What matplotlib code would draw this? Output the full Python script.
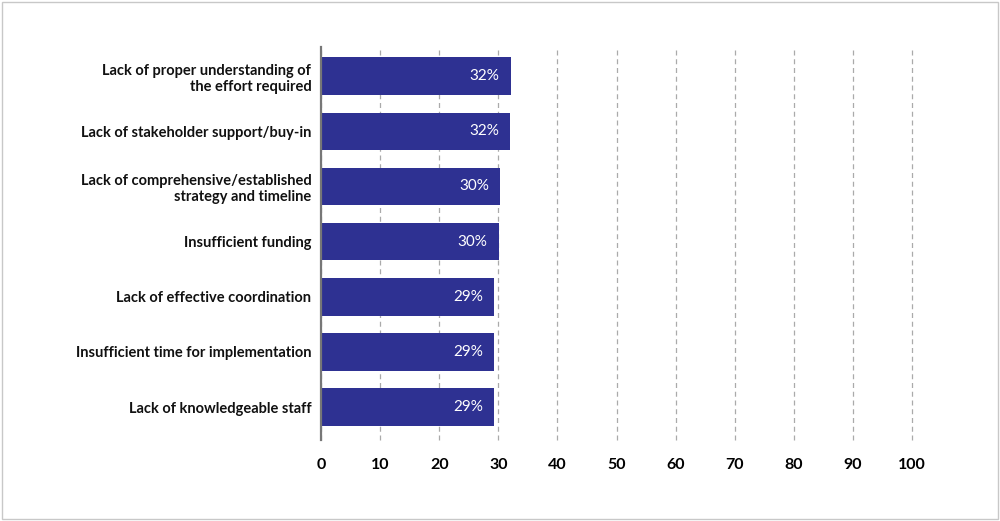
import matplotlib.pyplot as plt
from matplotlib.patches import Rectangle

plt.rcParams['font.family'] = ['Lato', 'DejaVu Sans']

# data
categories = [
    'Lack of proper understanding of\nthe effort required',
    'Lack of stakeholder support/buy-in',
    'Lack of comprehensive/established\nstrategy and timeline',
    'Insufficient funding',
    'Lack of effective coordination',
    'Insufficient time for implementation',
    'Lack of knowledgeable staff',
]
values = [32.1, 32.0, 30.3, 30.1, 29.3, 29.3, 29.3]
value_labels = ['32%', '32%', '30%', '30%', '29%', '29%', '29%']
x_ticks = [0, 10, 20, 30, 40, 50, 60, 70, 80, 90, 100]

bar_color = '#2e3192'

fig = plt.figure(figsize=(10, 5.21), dpi=100)
ax = fig.add_axes([0.321, 0.155, 0.591, 0.755])

# light frame round the figure
fig.patches.append(Rectangle((0.002, 0.004), 0.996, 0.992, transform=fig.transFigure,
                             fill=False, edgecolor='#c8c8c8', linewidth=1))

ypos = list(range(len(categories)))
ax.barh(ypos, values, height=0.68, color=bar_color, zorder=3)

for y, v, lab in zip(ypos, values, value_labels):
    ax.text(v - 1.9, y, lab, ha='right', va='center', color='white', fontsize=11, zorder=4)

ax.set_xlim(0, 100)
ax.set_ylim(len(categories) - 0.4, -0.53)
ax.set_xticks(x_ticks)
ax.set_yticks(ypos)
ax.set_yticklabels(categories, fontsize=10.5, fontweight='bold', color='#111111')
ax.tick_params(axis='y', length=0, pad=7)
ax.tick_params(axis='x', length=0, pad=13, labelsize=11.5)
for t in ax.get_xticklabels():
    t.set_fontweight('bold')

ax.xaxis.grid(True, linestyle=(0, (4, 3)), color='#aaaaaa', linewidth=0.9, zorder=0)
for gl in ax.get_xgridlines():
    gl.set_clip_on(False)
ax.set_axisbelow(True)

for s in ['top', 'right', 'bottom']:
    ax.spines[s].set_visible(False)
ax.spines['left'].set_color('#777777')
ax.spines['left'].set_linewidth(1.6)
ax.spines['left'].set_zorder(5)

fig.savefig('out.png', dpi=100)
